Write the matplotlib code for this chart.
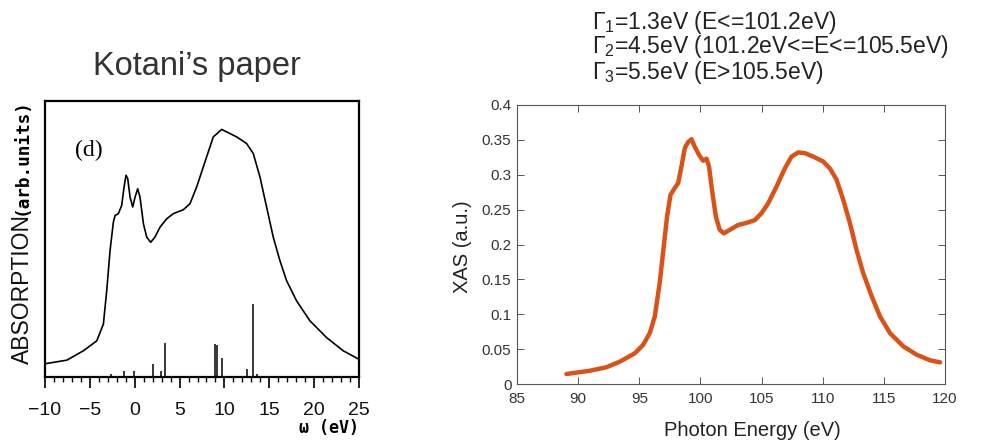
import numpy as np
import matplotlib.pyplot as plt
from matplotlib.ticker import MultipleLocator

plt.rcParams['font.family'] = ['Liberation Sans', 'DejaVu Sans']
plt.rcParams['mathtext.fontset'] = 'custom'
plt.rcParams['mathtext.rm'] = 'Liberation Sans'
plt.rcParams['mathtext.it'] = 'Liberation Sans:italic'

# left panel: Kotani's calculated absorption (arb. units)
omega = [-9.99, -7.57, -5.72, -4.23, -3.49, -3.12, -2.75, -2.38, -2.19, -1.82,
         -1.45, -1.19, -0.97, -0.78, -0.52, -0.22, 0.04, 0.33, 0.59, 0.97,
         1.34, 1.78, 2.26, 2.82, 3.56, 4.31, 5.42, 6.16, 6.90, 8.02,
         8.76, 9.69, 10.62, 11.36, 12.47, 13.21, 13.96, 14.70, 15.44, 16.18,
         16.93, 18.04, 19.52, 21.38, 23.24, 25.0]
absorption = [0.048, 0.061, 0.095, 0.131, 0.192, 0.313, 0.458, 0.561, 0.585, 0.592,
              0.622, 0.688, 0.731, 0.719, 0.652, 0.616, 0.652, 0.682, 0.652, 0.555,
              0.507, 0.488, 0.507, 0.543, 0.573, 0.592, 0.606, 0.628, 0.688, 0.798,
              0.870, 0.897, 0.882, 0.870, 0.846, 0.810, 0.725, 0.616, 0.507, 0.422,
              0.349, 0.276, 0.204, 0.143, 0.095, 0.064]

stick_pos = [-2.6, -1.2, -0.1, 2.0, 2.9, 3.4, 9.0, 9.2, 9.7, 12.5, 13.2, 13.6]
stick_h = [0.012, 0.02, 0.022, 0.046, 0.02, 0.125, 0.119, 0.115, 0.07, 0.03, 0.264, 0.012]
omega_ticks = [-10, -5, 0, 5, 10, 15, 20, 25]

# right panel: calculated XAS
energy = [89.04, 90.95, 92.31, 93.4, 94.63, 95.31, 95.86, 96.27, 96.67, 97.0,
          97.27, 97.55, 97.9, 98.18, 98.45, 98.72, 99.0, 99.27, 99.54, 99.9,
          100.22, 100.5, 100.7, 100.98, 101.26, 101.58, 101.91, 102.4, 103.09, 103.77,
          104.45, 105.0, 105.54, 106.22, 106.9, 107.45, 108.0, 108.54, 109.22, 110.04,
          110.59, 111.13, 111.68, 112.22, 112.77, 113.31, 114.0, 114.68, 115.5, 116.59,
          117.68, 118.77, 119.6]
xas = [0.0143, 0.019, 0.024, 0.032, 0.044, 0.056, 0.073, 0.097, 0.145, 0.197,
       0.240, 0.271, 0.281, 0.288, 0.312, 0.338, 0.347, 0.351, 0.340, 0.328,
       0.320, 0.323, 0.312, 0.274, 0.240, 0.221, 0.216, 0.221, 0.228, 0.231,
       0.235, 0.245, 0.259, 0.283, 0.309, 0.326, 0.332, 0.331, 0.326, 0.319,
       0.309, 0.293, 0.264, 0.231, 0.192, 0.159, 0.126, 0.097, 0.073, 0.054,
       0.042, 0.034, 0.031]

gamma_lines = [r'$\mathregular{\Gamma_1}$=1.3eV (E<=101.2eV)',
               r'$\mathregular{\Gamma_2}$=4.5eV (101.2eV<=E<=105.5eV)',
               r'$\mathregular{\Gamma_3}$=5.5eV (E>105.5eV)']

fig = plt.figure(figsize=(9.86, 4.42), dpi=100)

# ---- left panel ----
ax1 = fig.add_axes([45 / 986, 65 / 442, 314 / 986, 276 / 442])
ax1.plot(omega, absorption, color='k', lw=1.2)
ax1.vlines(stick_pos, 0, stick_h, color='k', lw=1.1)
ax1.set_xlim(-10, 25)
ax1.set_ylim(0, 1)
ax1.set_yticks([])
ax1.set_xticks(omega_ticks)
ax1.set_xticklabels([str(t).replace('-', '\u2212') for t in omega_ticks])
ax1.xaxis.set_minor_locator(MultipleLocator(1))
ax1.tick_params(axis='x', which='major', direction='out', length=8, width=1.3,
                labelsize=14, pad=10, colors='#111111')
ax1.tick_params(axis='x', which='minor', direction='out', length=3.5, width=1.0)
for s in ax1.spines.values():
    s.set_linewidth(1.6)
ax1.text(0.095, 0.82, '(d)', transform=ax1.transAxes, fontsize=17,
         family='Liberation Serif', va='center')
fig.text(359 / 986, 1 - 428 / 442, '\u03c9 (eV)', ha='right', va='center',
         fontsize=12, family='DejaVu Sans Mono', weight='bold')
fig.text(22 / 986, 1 - 289 / 442, 'ABSORPTION', rotation=90, ha='center',
         va='center', fontsize=16.5, color='#111111')
fig.text(22 / 986, 1 - 157 / 442, '(arb.units)', rotation=90, ha='center',
         va='center', fontsize=12.8, family='DejaVu Sans Mono', weight='bold')
fig.text(197 / 986, 1 - 66 / 442, 'Kotani\u2019s paper', ha='center',
         va='center', fontsize=23.5, color='#333333')

# ---- right panel ----
ax2 = fig.add_axes([517 / 986, 58 / 442, 428 / 986, 279 / 442])
ax2.plot(energy, xas, color='#D95319', lw=3.2, solid_capstyle='round')
ax2.set_xlim(85, 120)
ax2.set_ylim(0, 0.4)
ax2.set_xticks(np.arange(85, 121, 5))
ax2.set_yticks(np.arange(0, 0.401, 0.05))
ax2.set_yticklabels(['0', '0.05', '0.1', '0.15', '0.2', '0.25', '0.3', '0.35', '0.4'])
ax2.tick_params(direction='in', length=5, width=0.7, top=True, right=True,
                labelsize=11, colors='#555555', labelcolor='#333333', pad=4)
ax2.tick_params(axis='x', pad=6)
for s in ax2.spines.values():
    s.set_linewidth(0.8)
    s.set_color('#555555')
fig.text(752 / 986, 1 - 430 / 442, 'Photon Energy (eV)', ha='center',
         va='center', fontsize=14.5, color='#222222')
fig.text(463 / 986, 1 - 247 / 442, 'XAS (a.u.)', rotation=90, ha='center',
         va='center', fontsize=14.5, color='#222222')
for i, line in enumerate(gamma_lines):
    fig.text(592 / 986, 1 - (22 + 25 * i) / 442, line, ha='left', va='center',
             fontsize=16.5, color='#222222')

fig.savefig('out.png', dpi=100)
